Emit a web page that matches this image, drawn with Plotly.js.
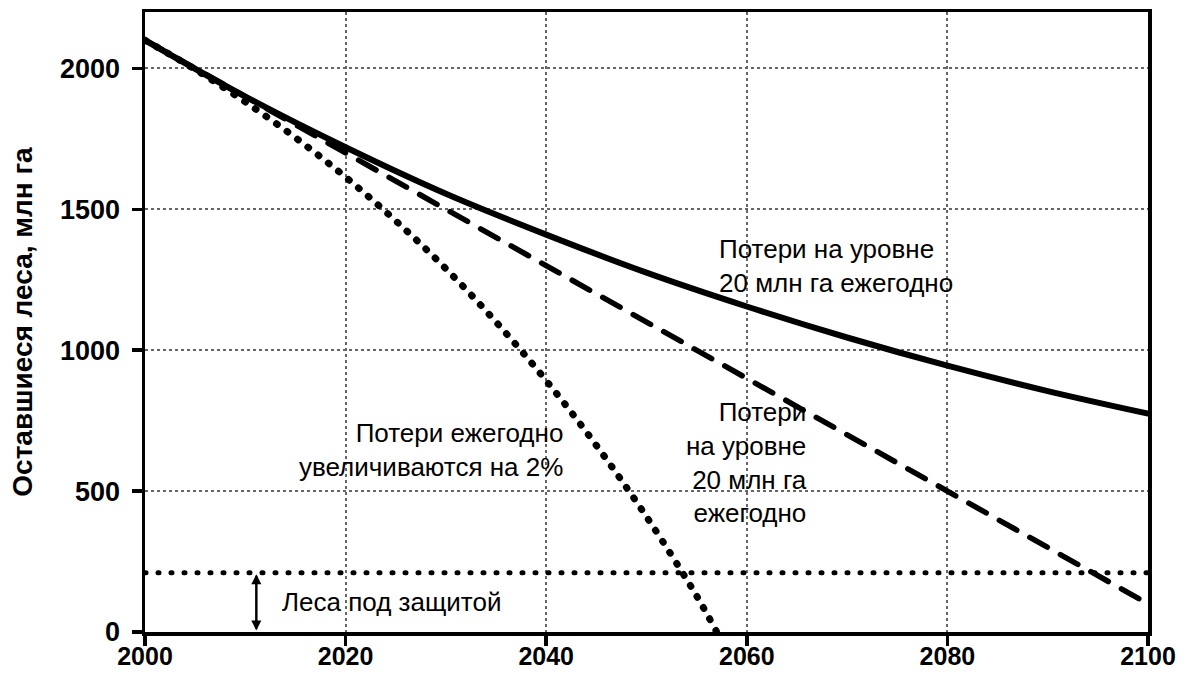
<!DOCTYPE html>
<html>
<head>
<meta charset="utf-8">
<script src="https://cdn.plot.ly/plotly-3.0.1.min.js"></script>
<style>
html,body{margin:0;padding:0;background:#fff}
#chart{width:1180px;height:673px}
#chart .scatterlayer path.js-line{stroke-linecap:round !important}
</style>
</head>
<body>
<div id="chart"></div>
<script>
// Constant-rate (~1%/yr) losses — solid curve
const yearsSolid = [2000, 2010, 2020, 2030, 2040, 2050, 2060, 2070, 2080, 2090, 2100];
const forestSolid = [2100, 1900, 1720, 1555, 1410, 1275, 1155, 1045, 945, 855, 775];

// Losses of 20 mln ha per year — dashed line
const yearsDashed = [2000, 2020, 2040, 2060, 2080, 2100];
const forestDashed = [2100, 1700, 1300, 900, 500, 100];

// Losses increasing by 2% per year — dotted curve
const yearsDotted = [2000, 2005, 2010, 2015, 2020, 2025, 2030, 2035, 2040, 2045, 2050, 2055, 2057];
const forestDotted = [2100, 1996, 1881, 1754, 1614, 1459, 1289, 1100, 892, 662, 409, 128, 0];

// Protected forest level
const protectedYears = [2000, 2100];
const protectedLevel = [210, 210];

const xTicks = [2000, 2020, 2040, 2060, 2080, 2100];
const yTicks = [0, 500, 1000, 1500, 2000];

const font = "Arial, 'Liberation Sans', sans-serif";

const traces = [
  {x: protectedYears, y: protectedLevel, mode: 'lines', line: {color: '#000', width: 5, dash: '1px,12px'}, hoverinfo: 'skip'},
  {x: yearsDotted, y: forestDotted, mode: 'lines', line: {color: '#000', width: 7, dash: '1px,12px', shape: 'spline'}, hoverinfo: 'skip'},
  {x: yearsDashed, y: forestDashed, mode: 'lines', line: {color: '#000', width: 5.5, dash: '20px,15px'}, hoverinfo: 'skip'},
  {x: yearsSolid, y: forestSolid, mode: 'lines', line: {color: '#000', width: 6, shape: 'spline'}, hoverinfo: 'skip'}
];

const annFont = {family: font, size: 26, color: '#000'};
const layout = {
  width: 1180, height: 673,
  margin: {l: 145, r: 32, t: 12, b: 41},
  paper_bgcolor: '#fff', plot_bgcolor: '#fff',
  showlegend: false,
  xaxis: {
    range: [2000, 2100], tickvals: xTicks, ticktext: xTicks.map(String),
    showline: true, linecolor: '#000', linewidth: 3.5, mirror: true,
    ticks: 'outside', ticklen: 10, tickwidth: 3.5, tickcolor: '#000',
    showgrid: true, gridcolor: '#666', gridwidth: 2, griddash: 'dot',
    zeroline: false, ticklabelstandoff: -11,
    tickfont: {family: font, size: 25, color: '#000', weight: 'bold'}
  },
  yaxis: {
    range: [0, 2200], tickvals: yTicks, ticktext: yTicks.map(String),
    showline: true, linecolor: '#000', linewidth: 3.5, mirror: true,
    ticks: 'outside', ticklen: 10, tickwidth: 3.5, tickcolor: '#000',
    showgrid: true, gridcolor: '#666', gridwidth: 2, griddash: 'dot',
    zeroline: false, ticklabelstandoff: 6,
    tickfont: {family: font, size: 27, color: '#000', weight: 'bold'},
    title: {text: 'Оставшиеся леса, млн га', font: {family: font, size: 28, color: '#000', weight: 'bold'}, standoff: 20}
  },
  annotations: [
    {x: 2057.0, y: 1300, xref: 'x', yref: 'y', text: 'Потери на уровне<br>20 млн га ежегодно', showarrow: false, xanchor: 'left', yanchor: 'middle', align: 'left', font: annFont},
    {x: 2041.9, y: 647, xref: 'x', yref: 'y', text: 'Потери ежегодно<br>увеличиваются на 2%', showarrow: false, xanchor: 'right', yanchor: 'middle', align: 'right', font: annFont},
    {x: 2066.2, y: 600, xref: 'x', yref: 'y', text: 'Потери<br>на уровне<br>20 млн га<br>ежегодно', showarrow: false, xanchor: 'right', yanchor: 'middle', align: 'right', font: annFont},
    {x: 2013.5, y: 105, xref: 'x', yref: 'y', text: 'Леса под защитой', showarrow: false, xanchor: 'left', yanchor: 'middle', align: 'left', font: annFont},
    {x: 2011.1, y: 205, ax: 2011.1, ay: 5, xref: 'x', yref: 'y', axref: 'x', ayref: 'y', text: '', showarrow: true, arrowhead: 2, arrowsize: 1, arrowwidth: 2, arrowcolor: '#000'},
    {x: 2011.1, y: 5, ax: 2011.1, ay: 205, xref: 'x', yref: 'y', axref: 'x', ayref: 'y', text: '', showarrow: true, arrowhead: 2, arrowsize: 1, arrowwidth: 2, arrowcolor: '#000'}
  ]
};

Plotly.newPlot('chart', traces, layout, {staticPlot: true, displayModeBar: false}).then(function () {
  document.querySelectorAll('.scatterlayer path.js-line').forEach(function (p) {
    p.style.strokeLinecap = 'round';
  });
});
</script>
</body>
</html>
